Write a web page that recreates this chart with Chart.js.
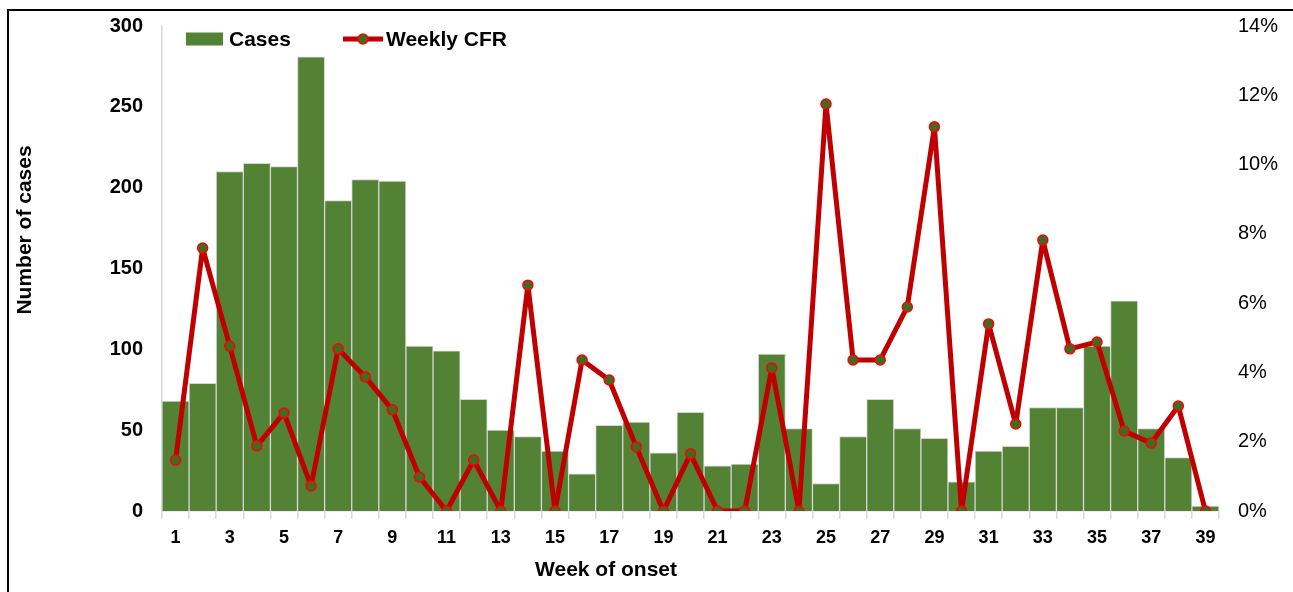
<!DOCTYPE html>
<html>
<head>
<meta charset="utf-8">
<script src="https://cdn.jsdelivr.net/npm/chart.js@4"></script>
<style>
  body { margin: 0; background: #fff; }
  #wrap { position: relative; width: 1293px; height: 592px; overflow: hidden; }
  #frame { position: absolute; left: 7px; top: 9px; width: 1400px; height: 700px;
           border: 2px solid #000; pointer-events: none; }
</style>
</head>
<body>
<div id="wrap">
  <canvas id="chart" width="1293" height="592"></canvas>
  <div id="frame"></div>
</div>
<script>
// weeks of onset (x axis)
const weeks = [1, 2, 3, 4, 5, 6, 7, 8, 9, 10, 11, 12, 13, 14, 15, 16, 17, 18, 19, 20,
  21, 22, 23, 24, 25, 26, 27, 28, 29, 30, 31, 32, 33, 34, 35, 36, 37, 38, 39];

// number of cases per week
const cases = [68, 79, 210, 215, 213, 281, 192, 205, 204, 102, 99, 69, 50, 46, 37, 23, 53, 55, 36, 61,
  28, 29, 97, 51, 17, 46, 69, 51, 45, 18, 37, 40, 64, 64, 102, 130, 51, 33, 3];

// weekly case fatality rate (fraction)
const cfr = [0.0147, 0.0759, 0.0476, 0.0188, 0.0283, 0.0072, 0.0468, 0.0387, 0.0292, 0.0098,
  0, 0.0147, 0, 0.0652, 0, 0.0436, 0.0378, 0.0185, 0, 0.0165,
  0, 0, 0.0413, 0, 0.1175, 0.0436, 0.0436, 0.0589, 0.1109, 0,
  0.054, 0.0251, 0.0782, 0.0468, 0.0488, 0.0231, 0.0196, 0.0303, 0];

const leftTicks = [0, 50, 100, 150, 200, 250, 300];
const rightTicks = [0, 0.02, 0.04, 0.06, 0.08, 0.1, 0.12, 0.14];

const GREEN = "#548235";
const RED = "#C00000";
const FONT = "'Liberation Sans', Arial, sans-serif";

// legend and axis titles drawn by hand, to place them like the original
const decorations = {
  id: "decorations",
  afterDraw(chart) {
    const { ctx, chartArea } = chart;
    ctx.save();
    ctx.fillStyle = "#000";
    ctx.textBaseline = "middle";
    ctx.font = "bold 21px " + FONT;

    // legend
    const ly = chartArea.top + 13;
    const bx = chartArea.left + 24;
    ctx.fillStyle = GREEN;
    ctx.fillRect(bx, ly - 6.5, 37, 13);
    ctx.fillStyle = "#000";
    ctx.textAlign = "left";
    ctx.fillText("Cases", bx + 43, ly + 1);

    const lx = chartArea.left + 181;
    ctx.strokeStyle = RED;
    ctx.lineWidth = 5;
    ctx.beginPath();
    ctx.moveTo(lx, ly);
    ctx.lineTo(lx + 40, ly);
    ctx.stroke();
    ctx.beginPath();
    ctx.arc(lx + 20, ly, 5, 0, Math.PI * 2);
    ctx.fillStyle = "#3F6B22";
    ctx.fill();
    ctx.lineWidth = 1.5;
    ctx.strokeStyle = "#FF0000";
    ctx.stroke();
    ctx.fillStyle = "#000";
    ctx.fillText("Weekly CFR", lx + 43, ly + 1);

    // x axis title
    ctx.font = "bold 21px " + FONT;
    ctx.textAlign = "center";
    ctx.fillText("Week of onset", chartArea.left + 444, chartArea.bottom + 59);

    // y axis title
    ctx.translate(25, chartArea.top + 204);
    ctx.rotate(-Math.PI / 2);
    ctx.font = "bold 21px " + FONT;
    ctx.fillText("Number of cases", 0, 0);
    ctx.restore();
  },
};

new Chart(document.getElementById("chart"), {
  data: {
    labels: weeks,
    datasets: [
      {
        type: "line",
        label: "Weekly CFR",
        data: cfr,
        yAxisID: "y1",
        order: 0,
        borderColor: RED,
        borderWidth: 5,
        borderJoinStyle: "round",
        borderCapStyle: "round",
        pointRadius: 5,
        pointBackgroundColor: "#3F6B22",
        pointBorderColor: "#FF0000",
        pointBorderWidth: 1.5,
        tension: 0,
      },
      {
        type: "bar",
        label: "Cases",
        data: cases,
        yAxisID: "y",
        order: 1,
        backgroundColor: GREEN,
        borderColor: "#d4d4d4",
        borderWidth: 1,
        categoryPercentage: 1,
        barPercentage: 1,
      },
    ],
  },
  options: {
    responsive: false,
    animation: false,
    layout: { padding: { top: 26, left: 0, right: 0, bottom: 0 } },
    plugins: { legend: { display: false }, tooltip: { enabled: false } },
    scales: {
      x: {
        grid: { display: true, drawOnChartArea: false, drawTicks: true, tickLength: 8,
                color: "#d9d9d9", lineWidth: 1.5, offset: true },
        border: { color: "#d9d9d9", width: 1.5 },
        ticks: {
          autoSkip: false,
          maxRotation: 0,
          padding: 8,
          color: "#000",
          font: { family: FONT, size: 18, weight: "bold" },
          callback: (v, i) => (i % 2 === 0 ? weeks[i] : ""),
        },
        afterFit: (s) => { s.height = 81; },
      },
      y: {
        position: "left",
        min: 0,
        max: 300,
        afterBuildTicks: (s) => { s.ticks = leftTicks.map((v) => ({ value: v })); },
        grid: { display: false, drawTicks: false, tickLength: 0 },
        border: { display: true, color: "#d9d9d9", width: 1.5 },
        ticks: { padding: 19, color: "#000", font: { family: FONT, size: 20, weight: "bold" } },
        afterFit: (s) => { s.width = 162; s.paddingTop = 0; s.paddingBottom = 0; },
      },
      y1: {
        position: "right",
        min: 0,
        max: 0.14,
        afterBuildTicks: (s) => { s.ticks = rightTicks.map((v) => ({ value: v })); },
        grid: { display: false, drawTicks: false, tickLength: 0 },
        border: { display: false },
        ticks: {
          padding: 19,
          color: "#000",
          font: { family: FONT, size: 20 },
          callback: (v) => Math.round(v * 100) + "%",
        },
        afterFit: (s) => { s.width = 74; s.paddingTop = 0; s.paddingBottom = 0; },
      },
    },
  },
  plugins: [decorations],
});
</script>
</body>
</html>
